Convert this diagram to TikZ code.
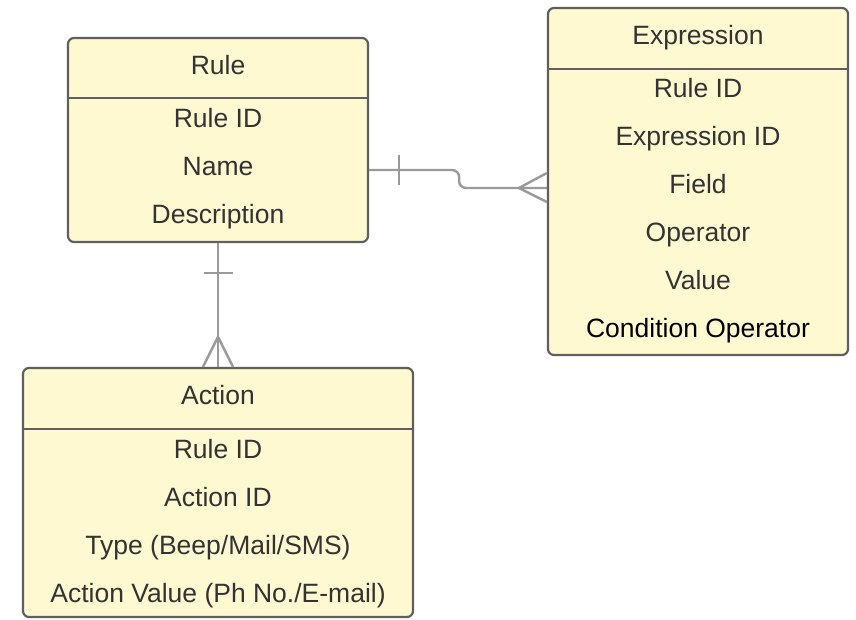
\documentclass[tikz,border=0pt]{standalone}
\usepackage{fontspec}
\setmainfont{Liberation Sans}
\usetikzlibrary{calc}
\definecolor{boxfill}{HTML}{FFF9D2}
\definecolor{boxline}{HTML}{5F5F5F}
\definecolor{connline}{HTML}{9A9A9A}
\definecolor{txt}{HTML}{333333}
\tikzset{
  entity/.style={draw=boxline, line width=2.2pt, fill=boxfill, rounded corners=6pt, inner sep=0pt},
  sepline/.style={draw=boxline, line width=2pt},
  fieldtext/.style={text=txt, font=\fontsize{26.5}{30}\selectfont, inner sep=0pt, anchor=base},
  conn/.style={draw=connline, line width=2.4pt},
}
\begin{document}
\begin{tikzpicture}[x=1pt,y=-1pt]
\useasboundingbox (0,0) rectangle (856,619);
\fill[white] (0,0) rectangle (856,619);
% Rule
\node[entity, minimum width=300pt, minimum height=204pt] (rule) at (218,140) {};
\draw[sepline] (68,98) -- (368,98);
\node[fieldtext] (ruleh) at (218,74.5) {Rule};
\node[fieldtext] (rule1) at (218,127.5) {Rule ID};
\node[fieldtext] (rule2) at (218,175.5) {Name};
\node[fieldtext] (rule3) at (218,223.5) {Description};
% Expression
\node[entity, minimum width=300pt, minimum height=347pt] (expr) at (698,181.5) {};
\draw[sepline] (548,69) -- (848,69);
\node[fieldtext] (exprh) at (698,44.5) {Expression};
\node[fieldtext] (expr1) at (698,97.5) {Rule ID};
\node[fieldtext] (expr2) at (698,145.5) {Expression ID};
\node[fieldtext] (expr3) at (698,193.5) {Field};
\node[fieldtext] (expr4) at (698,241.5) {Operator};
\node[fieldtext] (expr5) at (698,289.5) {Value};
\node[fieldtext, text=black] (expr6) at (698,337.5) {Condition Operator};
% Action
\node[entity, minimum width=390pt, minimum height=249pt] (action) at (218,492.5) {};
\draw[sepline] (23,429) -- (413,429);
\node[fieldtext] (acth) at (218,404.5) {Action};
\node[fieldtext] (act1) at (218,458.5) {Rule ID};
\node[fieldtext] (act2) at (218,506.5) {Action ID};
\node[fieldtext] (act3) at (218,554.5) {Type (Beep/Mail/SMS)};
\node[fieldtext] (act4) at (218,602.5) {Action Value (Ph No./E-mail)};
% Rule -- Expression
\coordinate (re1) at ([yshift=-30pt]rule.east);
\coordinate (re2) at ([yshift=-6.5pt]expr.west);
\draw[conn, rounded corners=7pt] (re1) -- ($(re1)+(90,0)$) |- (re2);
\draw[conn] ($(re1)+(30,-15)$) -- ($(re1)+(30,15)$);
\draw[conn] ($(re2)+(-28,0)$) -- ($(re2)+(0,-15)$);
\draw[conn] ($(re2)+(-28,0)$) -- ($(re2)+(0,14)$);
% Rule -- Action
\draw[conn] (rule.south) -- (action.north);
\draw[conn] ($(rule.south)+(-14.5,30)$) -- ($(rule.south)+(14.5,30)$);
\draw[conn] ($(action.north)+(0,-30)$) -- ($(action.north)+(-15,0)$);
\draw[conn] ($(action.north)+(0,-30)$) -- ($(action.north)+(15,0)$);
\end{tikzpicture}
\end{document}
